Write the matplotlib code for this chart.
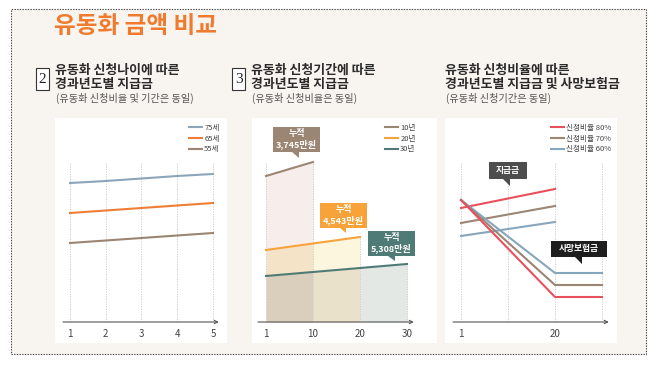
import numpy as np
import matplotlib
matplotlib.use("Agg")
import matplotlib.pyplot as plt
from matplotlib.patches import Rectangle, Polygon

plt.rcParams['font.family'] = ['Noto Sans CJK KR', 'DejaVu Sans']

# ---------------- data ----------------
title = "유동화 금액 비교"

# panel 1: by age (years 1..5), relative payment level
p1_years = [1, 2, 3, 4, 5]
p1_labels = ["75세", "65세", "55세"]
p1_age75 = [139, 141, 143.5, 146, 148]
p1_age65 = [109, 111.5, 114, 116.5, 119]
p1_age55 = [79, 81.5, 84, 86.5, 89]

# panel 2: by period; tick positions with labels
p2_ticks = ["1", "10", "20", "30"]
p2_labels = ["10년", "20년", "30년"]
p2_x10 = [0, 1]
p2_x20 = [0, 2]
p2_x30 = [0, 3]
p2_pay10 = [146, 160]
p2_pay20 = [72, 85]
p2_pay30 = [46, 58]
p2_totals = ["누적\n3,745만원", "누적\n4,543만원", "누적\n5,308만원"]

# panel 3: by ratio
p3_ticks = ["1", "", "20", ""]
p3_labels = ["신청비율 80%", "신청비율 70%", "신청비율 60%"]
p3_pay_x = [0, 2]
p3_pay80 = [114, 133]
p3_pay70 = [99, 116]
p3_pay60 = [86, 100]
p3_ins_x = [0, 2, 3]
p3_ins80 = [122, 25, 25]
p3_ins70 = [122, 37, 37]
p3_ins60 = [122, 49, 49]

# ---------------- layout helpers ----------------
W, H = 656, 365
fig = plt.figure(figsize=(W / 100, H / 100), dpi=100)
fig.patch.set_facecolor('white')


def fx(px):
    return px / W


def fy(py):
    return 1 - py / H


def axes_px(l, t, r, b):
    ax = fig.add_axes([l / W, 1 - b / H, (r - l) / W, (b - t) / H])
    ax.set_zorder(3)
    return ax


BEIGE = '#f8f4ef'
fig.patches.append(Rectangle((fx(11), fy(354)), fx(646) - fx(11), fy(9) - fy(354),
                             transform=fig.transFigure, facecolor=BEIGE,
                             edgecolor='#444444', lw=0.8, ls=(0, (1.2, 1.2)), zorder=0))
# white panels
for (l, r) in [(55, 227), (252, 437), (445, 617)]:
    fig.patches.append(Rectangle((fx(l), fy(343)), fx(r) - fx(l), fy(118) - fy(343),
                                 transform=fig.transFigure, facecolor='white',
                                 edgecolor='none', zorder=0.5))

fig.text(fx(54), fy(26), title, color='#f07a2e', fontsize=17, fontweight='bold',
         va='center', ha='left')

HEAD = '#2a2a2a'
SUB = '#555555'


def header(x, lines, sub, num=None):
    fig.text(fx(x), fy(70), lines[0], fontsize=9.3, fontweight='bold', color=HEAD,
             va='center', ha='left')
    fig.text(fx(x), fy(84), lines[1], fontsize=9.3, fontweight='bold', color=HEAD,
             va='center', ha='left')
    fig.text(fx(x + 1), fy(98.5), sub, fontsize=7.3, color=SUB, va='center', ha='left')
    if num is not None:
        bl, br = x - 19, x - 6
        fig.patches.append(Rectangle((fx(bl), fy(90)), fx(br) - fx(bl), fy(68) - fy(90),
                                     transform=fig.transFigure, facecolor='white',
                                     edgecolor='#333333', lw=0.8, zorder=1))
        fig.text(fx((bl + br) / 2), fy(79.5), num, fontsize=11, family='Liberation Serif',
                 color='#222222', ha='center', va='center')


header(55, ["유동화 신청나이에 따른", "경과년도별 지급금"], "(유동화 신청비율 및 기간은 동일)", "2")
header(251, ["유동화 신청기간에 따른", "경과년도별 지급금"], "(유동화 신청비율은 동일)", "3")
header(445, ["유동화 신청비율에 따른", "경과년도별 지급금 및 사망보험금"], "(유동화 신청기간은 동일)")


def style_axes(ax, xlim, ylim, ticks, labels):
    ax.set_xlim(*xlim)
    ax.set_ylim(*ylim)
    ax.patch.set_alpha(0)
    for s in ax.spines.values():
        s.set_visible(False)
    ax.set_yticks([])
    ax.set_xticks(ticks)
    ax.set_xticklabels(labels, fontsize=7, color='#444444')
    ax.tick_params(axis='x', length=0, pad=5)
    ax.annotate('', xy=(xlim[1] - 0.02 * (xlim[1] - xlim[0]), 0), xytext=(xlim[0], 0),
                arrowprops=dict(arrowstyle='->', color='#555555', lw=0.8,
                                shrinkA=0, shrinkB=0, mutation_scale=6),
                annotation_clip=False)


def legend(ax, handles, labels, x_px, y_px):
    ax.legend(handles, labels, loc='upper left', bbox_to_anchor=(fx(x_px), fy(y_px)),
              bbox_transform=fig.transFigure, frameon=False, fontsize=5.5,
              handlelength=1.7, handletextpad=0.3, labelspacing=0.35,
              borderpad=0, borderaxespad=0, labelcolor='#444444')


def callout(ax, xc, yc, w, h, text, color, tipx, tipy, fs=6.5, tw=0.15):
    ax.add_patch(Rectangle((xc - w / 2, yc - h / 2), w, h, facecolor=color,
                           edgecolor='none', clip_on=False, zorder=5))
    ax.add_patch(Polygon([(tipx - tw, yc - h / 2 + 0.5), (tipx, yc - h / 2 + 0.5), (tipx, tipy)],
                         closed=True, facecolor=color, edgecolor='none', clip_on=False,
                         zorder=5))
    ax.text(xc, yc, text, color='white', fontsize=fs, fontweight='bold', ha='center',
            va='center', linespacing=1.15, zorder=6, clip_on=False)


GRID = dict(color='#c8c8c8', lw=0.6, ls=(0, (1.5, 1.5)), zorder=1)

# ---------------- panel 1 ----------------
ax1 = axes_px(63, 118, 222, 322)
style_axes(ax1, (1 - 7 / 35.5, 1 + 151 / 35.5), (0, 204), p1_years,
           [str(v) for v in p1_years])
for xv in p1_years:
    ax1.plot([xv, xv], [0, 160], **GRID)
c75, c65, c55 = '#8ca5b8', '#ef7d35', '#9b8573'
h1 = ax1.plot(p1_years, p1_age75, color=c75, lw=1.5, zorder=3)
h2 = ax1.plot(p1_years, p1_age65, color=c65, lw=1.5, zorder=3)
h3 = ax1.plot(p1_years, p1_age55, color=c55, lw=1.5, zorder=3)
legend(ax1, [h1[0], h2[0], h3[0]], p1_labels, 189, 124)

# ---------------- panel 2 ----------------
ax2 = axes_px(258, 118, 417, 322)
style_axes(ax2, (-8 / 47, 151 / 47), (0, 204), [0, 1, 2, 3], p2_ticks)
c10, c20, c30 = '#9b8573', '#f7a33a', '#4f7b76'
# fills, region by region
xa = np.array([0, 1])
xb = np.array([1, 2])
xc = np.array([2, 3])
y10a = np.interp(xa, p2_x10, p2_pay10)
y20a = np.interp(xa, p2_x20, p2_pay20)
y20b = np.interp(xb, p2_x20, p2_pay20)
y30a = np.interp(xa, p2_x30, p2_pay30)
y30b = np.interp(xb, p2_x30, p2_pay30)
y30c = np.interp(xc, p2_x30, p2_pay30)
ax2.fill_between(xa, 0, y30a, color='#d9cfbc', lw=0, zorder=0.5)
ax2.fill_between(xa, y30a, y20a, color='#f5e3c8', lw=0, zorder=0.5)
ax2.fill_between(xa, y20a, y10a, color='#f7eeeb', lw=0, zorder=0.5)
ax2.fill_between(xb, 0, y30b, color='#e9e1ca', lw=0, zorder=0.5)
ax2.fill_between(xb, y30b, y20b, color='#fdf6de', lw=0, zorder=0.5)
ax2.fill_between(xc, 0, y30c, color='#e4e8e5', lw=0, zorder=0.5)
ax2.plot([0, 0], [0, p2_pay10[-1]], **GRID)
ax2.plot([1, 1], [0, p2_pay10[-1]], **GRID)
ax2.plot([2, 2], [0, p2_pay20[-1]], **GRID)
ax2.plot([3, 3], [0, p2_pay30[-1]], **GRID)
g1 = ax2.plot(p2_x10, p2_pay10, color=c10, lw=1.5, zorder=3)
g2 = ax2.plot(p2_x20, p2_pay20, color=c20, lw=1.5, zorder=3)
g3 = ax2.plot(p2_x30, p2_pay30, color=c30, lw=1.5, zorder=3)
legend(ax2, [g1[0], g2[0], g3[0]], p2_labels, 385, 124)
callout(ax2, 0.65, 182.5, 1.0, 25, p2_totals[0], c10, 0.70, 164)
callout(ax2, 1.65, 107, 1.0, 25, p2_totals[1], c20, 1.70, 89)
callout(ax2, 2.67, 78.5, 1.0, 25, p2_totals[2], c30, 2.74, 61)

# ---------------- panel 3 ----------------
ax3 = axes_px(453, 118, 612, 322)
style_axes(ax3, (-8 / 47, 151 / 47), (0, 204), [0, 1, 2, 3], p3_ticks)
for xv in [0, 1, 2, 3]:
    ax3.plot([xv, xv], [0, 160], **GRID)
r80, r70, r60 = '#e8505b', '#9b8573', '#86a6bd'
k3 = ax3.plot(p3_pay_x, p3_pay60, color=r60, lw=1.5, zorder=3)
k2 = ax3.plot(p3_pay_x, p3_pay70, color=r70, lw=1.5, zorder=3)
k1 = ax3.plot(p3_pay_x, p3_pay80, color=r80, lw=1.5, zorder=3)
ax3.plot(p3_ins_x, p3_ins60, color=r60, lw=1.5, zorder=3)
ax3.plot(p3_ins_x, p3_ins70, color=r70, lw=1.5, zorder=3)
ax3.plot(p3_ins_x, p3_ins80, color=r80, lw=1.5, zorder=3)
legend(ax3, [k1[0], k2[0], k3[0]], p3_labels, 551, 124)
callout(ax3, 1.0, 151.5, 0.81, 17, "지급금", '#4d4d4d', 1.04, 136, fs=6.3)
callout(ax3, 2.51, 73, 1.19, 16, "사망보험금", '#1e1e1e', 2.57, 58, fs=6.3)

fig.savefig("out.png", dpi=100, facecolor='white')
